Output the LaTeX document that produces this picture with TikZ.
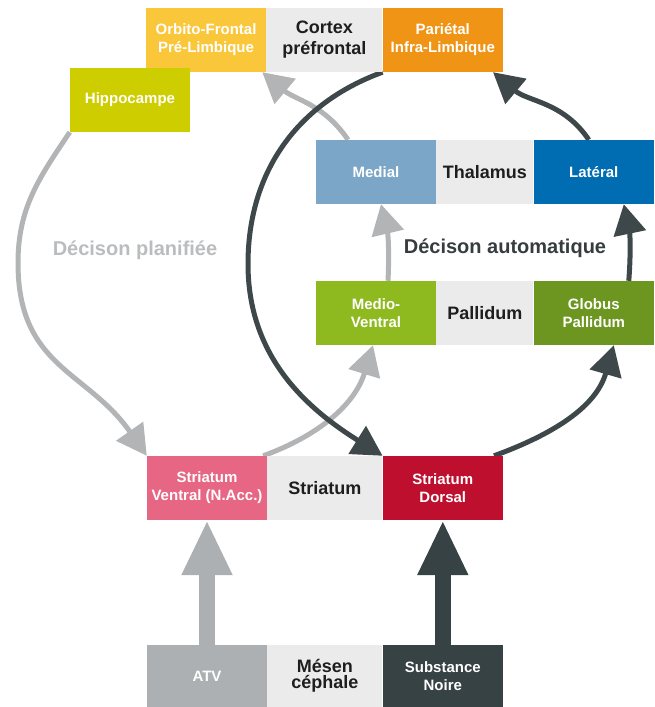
\documentclass[tikz,border=0pt]{standalone}
\usepackage{fontspec}
\setmainfont{Liberation Sans}
\usetikzlibrary{positioning,arrows.meta}
\pgfdeclarelayer{background}
\pgfsetlayers{background,main}
\definecolor{orbitoyellow}{RGB}{250,198,58}
\definecolor{parietalorange}{RGB}{240,148,22}
\definecolor{hippogreen}{RGB}{205,205,0}
\definecolor{medialblue}{RGB}{124,166,200}
\definecolor{lateralblue}{RGB}{0,108,178}
\definecolor{ventralgreen}{RGB}{142,186,32}
\definecolor{globusgreen}{RGB}{108,150,32}
\definecolor{ventralpink}{RGB}{230,102,132}
\definecolor{dorsalred}{RGB}{190,16,46}
\definecolor{atvgray}{RGB}{172,176,178}
\definecolor{noiredark}{RGB}{55,66,68}
\definecolor{paleback}{RGB}{235,235,236}
\definecolor{labelblack}{RGB}{30,30,30}
\definecolor{plannedline}{RGB}{178,180,182}
\definecolor{habitline}{RGB}{62,72,74}
\definecolor{plannedtext}{RGB}{186,188,190}
\definecolor{habittext}{RGB}{55,60,62}
\tikzset{
  region/.style={inner sep=0pt, minimum height=64pt, align=center},
  partbox/.style={region, minimum width=120pt, text=white, font=\bfseries\fontsize{15}{18}\selectfont},
  groupbox/.style={region, fill=paleback, text=labelblack, font=\bfseries\fontsize{18}{21}\selectfont},
  looplabel/.style={font=\bfseries\fontsize{20}{24}\selectfont},
  plannedarc/.style={line width=5pt, draw=plannedline, -{Triangle[length=30pt, width=32pt]}},
  habitarc/.style={line width=5pt, draw=habitline, -{Triangle[length=30pt, width=32pt]}},
  feedarrow/.style={line width=16pt, -{Triangle[length=55pt, width=47pt]}}
}

\begin{document}
\begin{tikzpicture}[x=1pt, y=1pt]
  \useasboundingbox (0,0) rectangle (655,707);
  % cortex
  \node[partbox, fill=orbitoyellow] (orbito) at (206,667) {Orbito-Frontal\\Pré-Limbique};
  \node[groupbox, minimum width=116pt, right=0pt of orbito] (cortex) {Cortex\\préfrontal};
  \node[partbox, fill=parietalorange, right=0pt of cortex] (parietal) {Pariétal\\Infra-Limbique};
  \node[partbox, fill=hippogreen] (hippo) at (130,607) {Hippocampe};
  % thalamus
  \node[partbox, fill=medialblue] (medial) at (376,535) {Medial};
  \node[groupbox, minimum width=97pt, right=0pt of medial] (thalamus) {Thalamus};
  \node[partbox, fill=lateralblue, right=0pt of thalamus] (lateral) {Latéral};
  % pallidum
  \node[partbox, fill=ventralgreen] (medioventral) at (376,394) {Medio-\\Ventral};
  \node[groupbox, minimum width=97pt, right=0pt of medioventral] (pallidum) {Pallidum};
  \node[partbox, fill=globusgreen, right=0pt of pallidum] (globus) {Globus\\Pallidum};
  % striatum
  \node[partbox, fill=ventralpink] (ventral) at (207,219) {Striatum\\Ventral (N.Acc.)};
  \node[groupbox, minimum width=115pt, right=0pt of ventral] (striatum) {Striatum};
  \node[partbox, fill=dorsalred, right=0pt of striatum] (dorsal) {Striatum\\Dorsal};
  % mesencephale
  \node[partbox, minimum height=62pt, fill=atvgray] (atv) at (207,31) {ATV};
  \node[groupbox, minimum width=115pt, minimum height=62pt, right=0pt of atv] (mesen) {\raisebox{-6pt}{\shortstack{Mésen\\céphale}}};
  \node[partbox, minimum height=62pt, fill=noiredark, right=0pt of mesen] (noire) {Substance\\Noire};

  \node[looplabel, text=plannedtext] (planlabel) at (135,457) {Décison planifiée};
  \node[looplabel, text=habittext] (autolabel) at (505,459) {Décison automatique};

  % outer points of the two loops
  \coordinate (plannedleft) at (18,444);
  \coordinate (habitleft) at (248,443);

  \begin{pgfonlayer}{background}
    \draw[plannedarc] (hippo.south west) to[out=236, in=90] (plannedleft)
      to[out=270, in=125, looseness=1.15] (ventral.north west);
    \draw[plannedarc] ([xshift=-4pt]ventral.north east) to[out=20, in=253] ([xshift=-3pt]medioventral.south);
    \draw[plannedarc] ([xshift=12pt]medioventral.north) to[bend right=8] ([xshift=5pt]medial.south);
    \draw[plannedarc] ([xshift=-28pt]medial.north) to[out=124, in=320] ([xshift=-4pt]orbito.south east);
    \draw[habitarc] (parietal.south west) to[out=200, in=90] (habitleft)
      to[out=270, in=148] (dorsal.north west);
    \draw[habitarc] ([xshift=-9pt]dorsal.north east) to[out=20, in=254] ([xshift=20pt]globus.south);
    \draw[habitarc] ([xshift=35pt]globus.north) to[bend right=8] ([xshift=30pt]lateral.south);
    \draw[habitarc] ([xshift=-5pt]lateral.north) to[out=124, in=320] ([xshift=-10pt]parietal.south east);
  \end{pgfonlayer}
  \draw[feedarrow, draw=atvgray] (atv) -- (ventral);
  \draw[feedarrow, draw=noiredark] (noire) -- (dorsal);
\end{tikzpicture}
\end{document}
